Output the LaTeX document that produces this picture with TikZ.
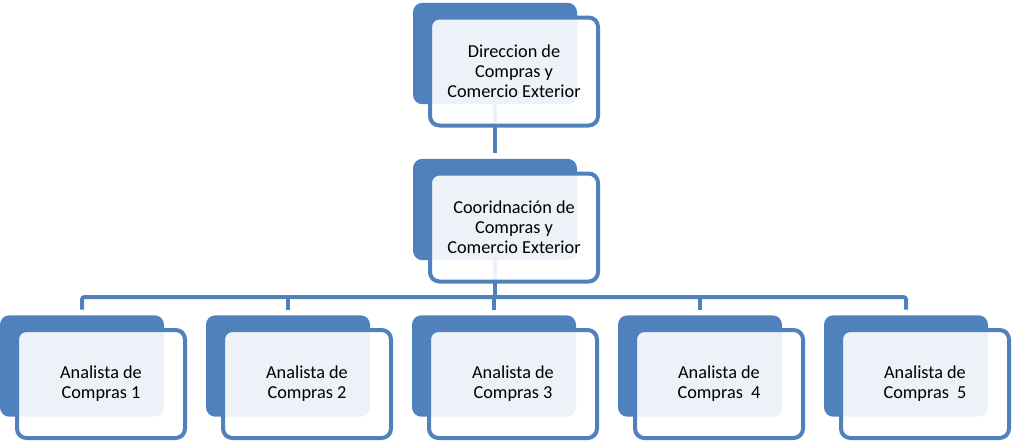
\documentclass[tikz,border=0pt]{standalone}
\usepackage{fontspec}
\setmainfont{Carlito}
\usepackage{tikz}
\usetikzlibrary{positioning,backgrounds}
\definecolor{boxblue}{HTML}{4F81BD}

\begin{document}
\begin{tikzpicture}[x=0.75pt,y=-0.75pt,
	back node/.style={rectangle,rounded corners=7pt,fill=boxblue,inner sep=0pt,
		minimum width=123pt,minimum height=76pt},
	front node/.style={rectangle,rounded corners=7pt,draw=boxblue,line width=3pt,
		fill=white,fill opacity=0.9,text opacity=1,text=black,align=center,inner sep=0pt,
		minimum width=126pt,minimum height=81pt,shift={(19,18)},
		font=\fontsize{13.7}{15}\selectfont},
	link/.style={draw=boxblue,line width=3pt,rounded corners=2pt}]

	\useasboundingbox (0,0) rectangle (1012,440);

	\node[back node] (dirB) at (495,53.5) {};
	\node[front node] (dir) at (dirB) {Direccion de\\Compras y\\Comercio Exterior};

	\node[back node] (coorB) at (495,209.5) {};
	\node[front node] (coor) at (coorB) {Cooridnación de\\Compras y\\Comercio Exterior};

	\foreach \i/\lbl in {1/{Compras 1},2/{Compras 2},3/{Compras 3},4/{Compras~~4},5/{Compras~~5}}{
		\node[back node] (anaB\i) at ({82+206*(\i-1)},366) {};
		\node[front node] (ana\i) at (anaB\i) {Analista de\\\lbl};
	}

	\begin{scope}[on background layer]
		\coordinate (bus) at (0,297);
		\draw[link,shorten >=4pt] (dirB.south) -- (coorB.north);
		\draw[link] (coorB.south) -- (coorB.south |- bus);
		\draw[link,shorten <=4pt,shorten >=4pt] (anaB1.north) -- (anaB1.north |- bus)
			-- (anaB5.north |- bus) -- (anaB5.north);
		\foreach \i in {2,3,4}
			\draw[link,shorten >=4pt] (anaB\i.north |- bus) -- (anaB\i.north);
	\end{scope}

\end{tikzpicture}
\end{document}
